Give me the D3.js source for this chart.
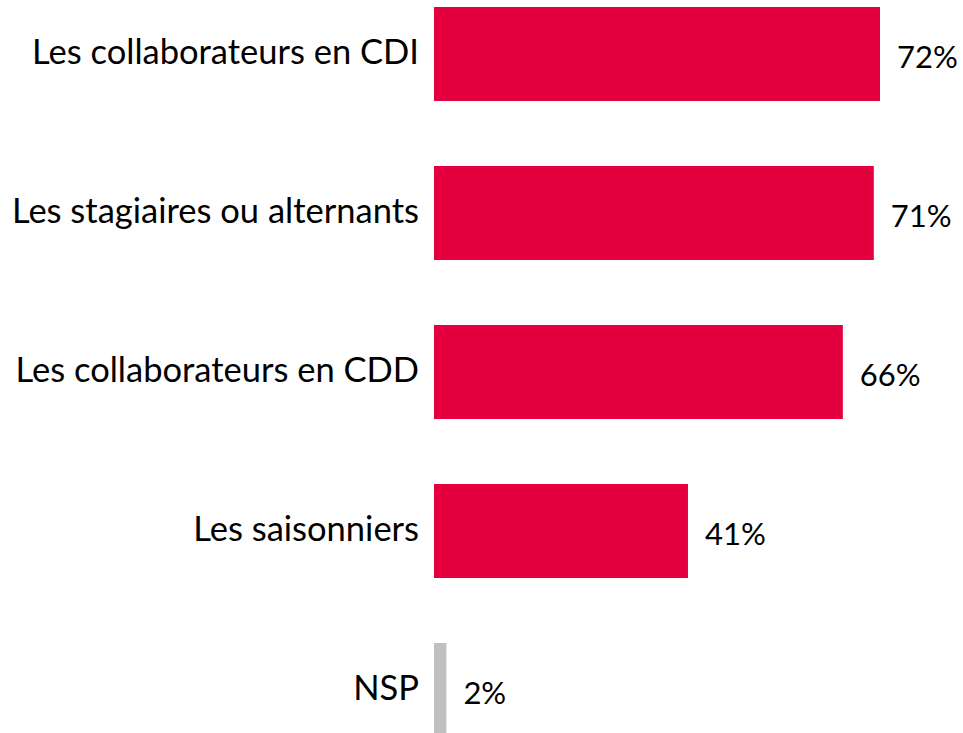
<!DOCTYPE html>
<html>
<head>
<meta charset="utf-8">
<script src="https://cdn.jsdelivr.net/npm/d3@7"></script>
<style>
  html, body { margin: 0; padding: 0; background: #fff; }
  svg text { font-family: Lato, "Open Sans", sans-serif; fill: #000; }
</style>
</head>
<body>
<svg id="chart" width="963" height="733"></svg>
<script>
const categories = ["Les collaborateurs en CDI", "Les stagiaires ou alternants",
  "Les collaborateurs en CDD", "Les saisonniers", "NSP"];
const values = [72, 71, 66, 41, 2];
const colors = ["#e4003f", "#e4003f", "#e4003f", "#e4003f", "#bfbfbf"];

const svg = d3.select("#chart");

const x = d3.scaleLinear().domain([0, 72]).range([434, 880]);
const y = d3.scaleBand().domain(categories).range([7, 737])
  .paddingInner(0.409).paddingOuter(0);

// bars
svg.selectAll("rect.bar")
  .data(categories)
  .join("rect")
  .attr("class", "bar")
  .attr("x", x(0))
  .attr("y", (d) => y(d))
  .attr("width", (d, i) => x(values[i]) - x(0))
  .attr("height", y.bandwidth())
  .attr("fill", (d, i) => colors[i]);

// category labels
svg.selectAll("text.cat")
  .data(categories)
  .join("text")
  .attr("class", "cat")
  .attr("x", 419)
  .attr("y", (d) => y(d) + y.bandwidth() / 2)
  .attr("dy", "0.3em")
  .attr("text-anchor", "end")
  .style("font-size", "34.5px")
  .text((d) => d);

// value labels
svg.selectAll("text.val")
  .data(categories)
  .join("text")
  .attr("class", "val")
  .attr("x", (d, i) => x(values[i]) + 17)
  .attr("y", (d) => y(d) + y.bandwidth() / 2 + 3)
  .attr("dy", "0.35em")
  .style("font-size", "31px")
  .text((d, i) => values[i] + "%");
</script>
</body>
</html>
